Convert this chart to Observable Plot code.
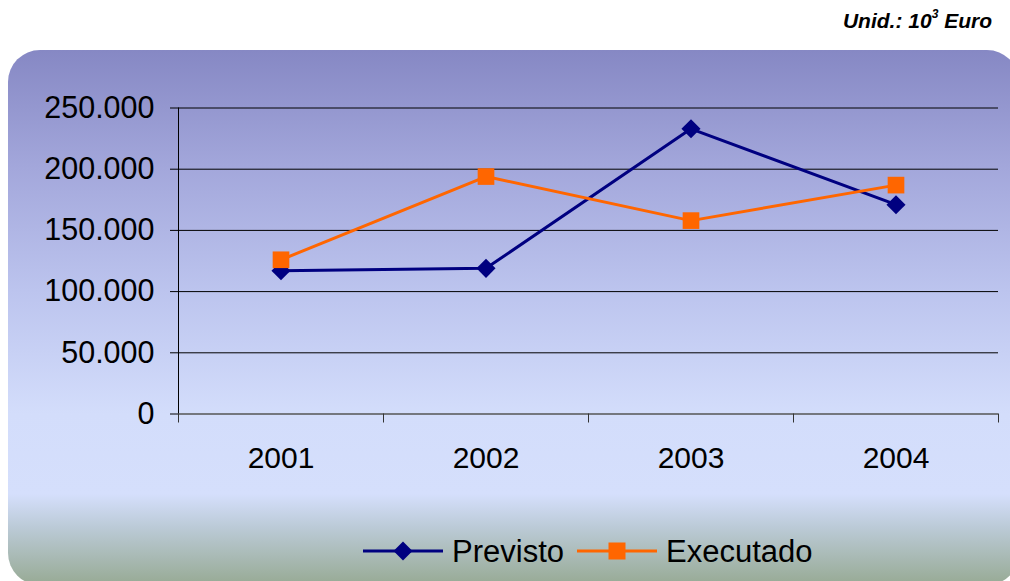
<!DOCTYPE html>
<html>
<head>
<meta charset="utf-8">
<script src="https://cdn.jsdelivr.net/npm/d3@7"></script>
<script src="https://cdn.jsdelivr.net/npm/@observablehq/plot@0.6"></script>
<style>
  html, body { margin: 0; padding: 0; background: #fff; }
  #wrap { position: relative; width: 1010px; height: 581px; overflow: hidden; font-family: Arial, "Liberation Sans", sans-serif; }
  #bg { position: absolute; left: 8px; top: 50px; width: 1011px; height: 535px; border-radius: 32px;
        background: linear-gradient(to bottom, #8688c4 0%, #a3a7db 22%, #bcc4ee 45%, #d3ddfb 68%, #d5dffc 83%, #bccbd8 89%, #97aa94 100%); }
  #title { position: absolute; right: 18px; top: 9px; font-size: 21px; font-weight: bold; font-style: italic; color: #000; }
  #title sup { font-size: 12px; position: relative; top: -2px; }
  #chart { position: absolute; left: 0; top: 0; }
  #legend { position: absolute; left: 0; top: 0; }
</style>
</head>
<body>
<div id="wrap">
  <div id="bg"></div>
  <div id="title">Unid.: 10<sup>3</sup> Euro</div>
  <div id="chart"></div>
  <svg id="legend" width="1010" height="581"></svg>
</div>
<script>
const years = [2001, 2002, 2003, 2004];
const previsto = [117000, 119000, 233000, 171000];
const executado = [126000, 194000, 158000, 187000];
const yTicks = [0, 50000, 100000, 150000, 200000, 250000];
const seriesNames = ["Previsto", "Executado"];
const seriesColors = ["#000080", "#ff6600"];

const rowsP = years.map((y, i) => ({year: y, value: previsto[i]}));
const rowsE = years.map((y, i) => ({year: y, value: executado[i]}));
const boundaries = [years[0] - 0.5, ...years.map(y => y + 0.5)];
const fmt = d => d3.format(",")(d).replace(/,/g, ".");

const chart = Plot.plot({
  width: 1010,
  height: 500,
  marginLeft: 178,
  marginRight: 12,
  marginTop: 107.5,
  marginBottom: 86.5,
  style: {background: "transparent", fontFamily: "Arial, 'Liberation Sans', sans-serif", fontSize: "30px", color: "#000"},
  x: {type: "linear", domain: [years[0] - 0.5, years[years.length - 1] + 0.5]},
  y: {domain: [0, 250000]},
  marks: [
    Plot.gridY(yTicks.slice(1), {stroke: "#000", strokeOpacity: 1, strokeWidth: 1}),
    Plot.ruleY([0], {stroke: "#555", strokeWidth: 1.3}),
    Plot.axisY({ticks: yTicks, tickSize: 8, tickPadding: 16, tickFormat: fmt, label: null, fontSize: 30.5, stroke: "#000"}),
    Plot.ruleX([boundaries[0]], {y1: 0, y2: 250000, stroke: "#000", strokeWidth: 1}),
    Plot.axisX({ticks: boundaries, tickSize: 9, tickFormat: () => "", label: null, stroke: "#333"}),
    Plot.axisX({ticks: years, tickSize: 0, tickPadding: 33, tickFormat: d => String(d), label: null, fontSize: 30}),
    Plot.line(rowsP, {x: "year", y: "value", stroke: seriesColors[0], strokeWidth: 3}),
    Plot.dot(rowsP, {x: "year", y: "value", symbol: "diamond2", r: 8.6, fill: seriesColors[0], stroke: "none"}),
    Plot.line(rowsE, {x: "year", y: "value", stroke: seriesColors[1], strokeWidth: 3}),
    Plot.dot(rowsE, {x: "year", y: "value", symbol: "square", r: 9.4, fill: seriesColors[1], stroke: "none"})
  ]
});
document.getElementById("chart").appendChild(chart);

// Legend
const leg = d3.select("#legend");
const legendItems = [
  {name: seriesNames[0], color: seriesColors[0], x: 363, sym: "diamond"},
  {name: seriesNames[1], color: seriesColors[1], x: 577, sym: "square"}
];
const ly = 551;
legendItems.forEach(it => {
  leg.append("line").attr("x1", it.x).attr("x2", it.x + 80).attr("y1", ly).attr("y2", ly)
    .attr("stroke", it.color).attr("stroke-width", 3);
  const cx = it.x + 40;
  if (it.sym === "diamond") {
    leg.append("path").attr("d", `M${cx},${ly-9.5}L${cx+9.5},${ly}L${cx},${ly+9.5}L${cx-9.5},${ly}Z`).attr("fill", it.color);
  } else {
    leg.append("rect").attr("x", cx - 8.5).attr("y", ly - 8.5).attr("width", 17).attr("height", 17).attr("fill", it.color);
  }
  leg.append("text").attr("x", it.x + 89).attr("y", ly + 11).attr("font-size", 31)
    .attr("font-family", "Arial, 'Liberation Sans', sans-serif").attr("fill", "#000").text(it.name);
});
</script>
</body>
</html>
